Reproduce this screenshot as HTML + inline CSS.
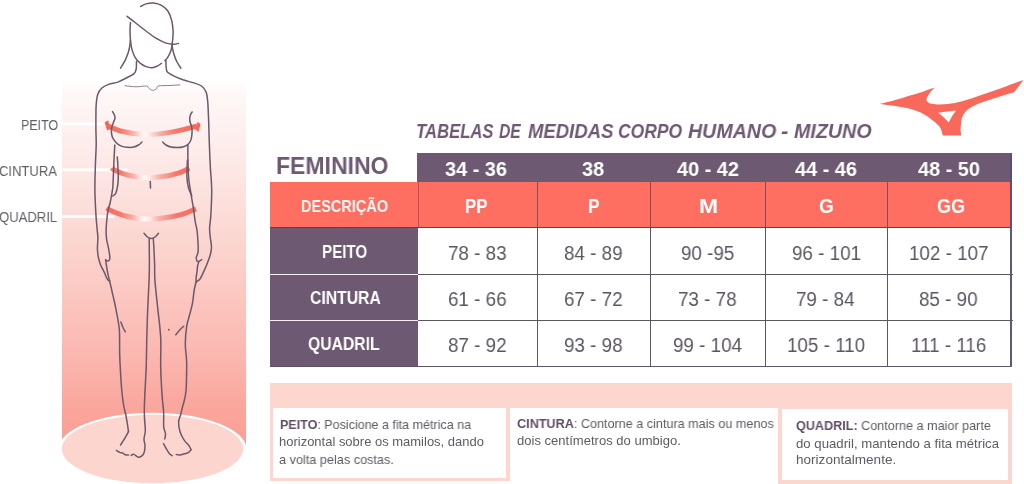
<!DOCTYPE html>
<html><head><meta charset="utf-8">
<style>
*{margin:0;padding:0;box-sizing:border-box}
html,body{width:1024px;height:484px;overflow:hidden;background:#fff}
body{position:relative;font-family:"Liberation Sans",sans-serif}
.a{position:absolute}
.t{position:absolute;white-space:nowrap;line-height:1;transform-origin:0 0;will-change:transform}
</style></head><body>
<svg class="a" style="left:0;top:0" width="270" height="484" viewBox="0 0 270 484">
<defs><linearGradient id="cyl" x1="0" y1="0" x2="0" y2="1"><stop offset="0" stop-color="#fff" stop-opacity="0"/><stop offset="0.03" stop-color="#fefaf9"/><stop offset="0.06" stop-color="#fdf7f6"/><stop offset="0.19" stop-color="#fdeceb"/><stop offset="0.46" stop-color="#fcd4ce"/><stop offset="0.73" stop-color="#fbb9b2"/><stop offset="0.9" stop-color="#faa59b"/><stop offset="1" stop-color="#f99e94"/></linearGradient><linearGradient id="ar" gradientUnits="userSpaceOnUse" x1="104" y1="0" x2="201" y2="0"><stop offset="0" stop-color="#f4685a"/><stop offset="0.17" stop-color="#f5786b"/><stop offset="0.3" stop-color="#f9b0a8"/><stop offset="0.38" stop-color="#fde8e5"/><stop offset="0.42" stop-color="#fff8f7"/><stop offset="0.47" stop-color="#fde8e5"/><stop offset="0.57" stop-color="#f9b0a8"/><stop offset="0.74" stop-color="#f5786b"/><stop offset="1" stop-color="#f4685a"/></linearGradient></defs>
<rect x="62" y="78" width="184" height="371" fill="url(#cyl)"/>
<ellipse cx="152.5" cy="449" rx="94" ry="36.2" fill="#fff"/>
<ellipse cx="152.5" cy="449" rx="90.6" ry="34.2" fill="#fcd5ce"/>
<g fill="#fff" opacity="0.95"><rect x="62.3" y="122.5" width="43" height="3"/><rect x="62.3" y="168.3" width="65" height="3"/><rect x="62.3" y="215" width="52" height="3"/></g>
<g fill="none" stroke="url(#ar)" stroke-width="5" stroke-linecap="butt">
<path d="M107.0 125.5 C109.4 126.5 115.2 129.8 121.5 131.3 C127.8 132.8 137.0 134.4 145.1 134.6 C153.2 134.8 161.2 133.8 169.8 132.4 C178.5 131.0 192.5 127.1 197.0 126.0"/>
<path d="M112.5 167.5 C112.8 167.9 111.7 168.8 114.3 170.1 C116.9 171.4 123.1 174.0 128.2 175.2 C133.3 176.4 139.2 177.3 144.9 177.5 C150.6 177.7 156.8 177.4 162.5 176.6 C168.2 175.8 174.7 174.2 179.2 172.8 C183.7 171.4 187.7 169.0 189.4 168.2"/>
<path d="M106.8 208.0 C107.4 208.4 107.2 209.0 110.3 210.3 C113.4 211.6 120.0 214.6 125.6 216.0 C131.2 217.4 137.8 218.7 144.1 219.0 C150.4 219.3 157.3 218.8 163.6 218.0 C169.9 217.2 176.6 215.9 182.0 214.4 C187.4 212.9 193.6 209.7 195.9 208.8"/>
</g>
<g fill="#f4685a">
<polygon points="104.6,122.6 108.2,120.2 110.2,128.8 107.2,130.6"/>
<polygon points="200.6,124.2 197.6,121.8 195.2,129.2 198.4,132"/>
</g>
<g fill="none" stroke="#6b5868" stroke-width="1.5" stroke-linecap="round" stroke-linejoin="round">
<path d="M140.6 6.5 C141.5 6.1 143.8 4.5 146.0 3.9 C148.2 3.3 151.1 2.9 153.7 3.1 C156.3 3.4 159.2 4.1 161.5 5.4 C163.8 6.7 166.0 8.4 167.7 10.8 C169.4 13.2 170.7 16.7 171.6 20.1 C172.5 23.5 172.9 27.6 173.1 31.0 C173.3 34.4 172.8 38.0 172.6 40.3 C172.4 42.6 172.1 43.9 172.0 44.6"/>
<path d="M127.1 16.3 C128.4 17.3 131.9 20.1 135.1 22.5 C138.2 24.9 142.4 28.3 146.0 31.0 C149.6 33.7 153.5 36.7 156.8 38.7 C160.2 40.7 163.2 42.2 166.1 43.1 C168.9 44.0 171.8 44.2 173.9 44.2 C176.0 44.2 177.7 43.5 178.5 43.4"/>
<path d="M130.5 22.5 C130.4 23.9 130.0 28.0 130.0 31.0 C130.0 34.0 130.2 37.2 130.5 40.3 C130.8 43.4 131.2 46.8 132.0 49.6 C132.8 52.4 133.8 55.1 135.1 57.3 C136.4 59.5 138.0 61.2 139.8 62.8 C141.6 64.3 143.9 65.8 146.0 66.6 C148.1 67.4 150.3 67.8 152.2 67.7 C154.1 67.6 156.0 66.6 157.6 65.9 C159.2 65.2 160.8 63.7 161.5 63.3"/>
<path d="M130.4 40.0 C130.3 41.2 130.0 44.9 129.6 47.0 C129.2 49.1 128.9 50.5 128.2 52.7 C127.4 54.9 126.4 57.8 125.1 60.4 C123.8 63.0 121.3 66.9 120.6 68.2"/>
<path d="M172.2 44.9 C172.0 45.9 171.6 49.0 170.8 51.1 C170.1 53.2 168.7 55.7 167.7 57.3 C166.7 58.9 165.4 60.1 164.9 60.7"/>
<path d="M171.8 45.0 C172.2 46.5 173.0 51.4 173.9 54.2 C174.8 57.0 175.8 59.7 177.0 62.0 C178.2 64.3 180.2 67.2 180.9 68.2"/>
<path d="M136.5 61.2 C136.4 62.5 136.6 66.8 136.2 68.9 C135.8 71.0 135.6 72.2 134.1 73.6 C132.6 75.0 129.9 76.1 127.2 77.5 C124.5 78.9 121.0 80.9 117.9 82.1 C114.8 83.2 111.3 83.4 108.6 84.4 C105.9 85.4 103.4 86.6 101.6 88.3 C99.8 90.0 98.6 91.8 97.7 94.5 C96.8 97.2 96.5 100.8 96.2 104.6 C95.9 108.3 96.0 112.8 95.9 117.0 C95.9 121.2 95.9 125.3 95.9 130.0 C96.0 134.7 96.3 139.2 96.2 145.0 C96.1 150.8 95.6 157.4 95.4 164.8 C95.2 172.2 94.8 181.3 94.9 189.6 C95.0 197.9 95.5 207.7 95.9 214.4 C96.3 221.1 96.9 226.1 97.2 230.0 C97.5 233.9 97.9 234.9 97.9 238.0 C97.9 241.1 97.4 245.5 97.4 248.6 C97.5 251.7 97.7 253.8 98.2 256.5 C98.7 259.2 99.5 262.1 100.5 264.7 C101.5 267.3 103.1 269.7 104.2 272.1 C105.3 274.5 106.4 277.7 107.3 279.2 C108.2 280.7 109.2 280.7 109.6 281.0"/>
<path d="M165.9 60.4 C165.9 61.6 165.9 65.5 166.2 67.4 C166.4 69.3 166.2 70.6 167.4 72.0 C168.6 73.4 171.0 74.6 173.6 75.9 C176.2 77.2 179.5 78.6 182.9 79.8 C186.3 81.0 190.7 81.9 193.8 82.9 C196.9 83.9 199.4 84.5 201.5 86.0 C203.6 87.5 205.2 89.6 206.2 92.2 C207.2 94.8 207.3 97.4 207.7 101.5 C208.1 105.6 208.2 110.6 208.5 117.0 C208.8 123.4 208.9 132.0 209.2 140.0 C209.5 148.0 209.8 156.5 210.2 164.8 C210.6 173.1 211.6 181.3 211.7 189.6 C211.8 197.9 211.2 208.0 210.9 214.4 C210.6 220.8 209.7 224.2 209.6 228.0 C209.5 231.8 210.0 234.2 210.3 237.4 C210.6 240.6 211.5 244.4 211.5 247.3 C211.5 250.2 211.0 252.1 210.3 254.8 C209.6 257.5 208.3 260.5 207.2 263.4 C206.1 266.3 204.7 269.5 203.5 272.1 C202.3 274.8 201.0 277.7 199.8 279.3 C198.6 280.9 196.7 281.6 196.1 282.0"/>
<path d="M109.6 281.0 C109.9 282.5 111.0 286.8 111.7 290.0 C112.4 293.2 113.3 296.9 114.0 300.0 C114.7 303.1 115.2 305.2 115.9 308.9 C116.6 312.6 117.7 318.1 118.3 322.0 C118.9 325.9 119.3 326.5 119.5 332.0 C119.7 337.5 119.5 348.4 119.7 355.1 C119.9 361.8 120.2 366.2 120.5 372.0 C120.8 377.8 121.2 384.3 121.7 389.8 C122.2 395.3 122.9 400.7 123.6 405.0 C124.3 409.3 125.3 412.2 126.0 415.8 C126.7 419.4 127.4 424.3 127.8 426.9 C128.2 429.5 128.4 430.8 128.5 431.6"/>
<path d="M196.1 282.0 C195.8 283.3 194.8 286.5 194.2 290.0 C193.6 293.5 193.3 298.9 192.5 303.1 C191.7 307.3 190.6 311.1 189.6 315.0 C188.6 318.9 187.4 321.4 186.7 326.2 C186.0 331.0 185.4 338.3 185.3 343.6 C185.2 348.9 186.2 354.1 186.4 358.0 C186.6 361.9 186.8 361.4 186.7 366.7 C186.6 372.0 186.5 384.2 186.1 389.8 C185.7 395.4 185.0 397.1 184.4 400.0 C183.8 402.9 183.0 404.7 182.4 407.2 C181.8 409.7 181.2 412.5 180.6 415.0 C180.0 417.5 178.7 419.1 178.6 422.0 C178.5 424.9 179.2 429.1 180.2 432.2 C181.1 435.2 182.8 438.1 184.3 440.3 C185.8 442.6 187.9 444.1 189.0 445.7 C190.1 447.3 190.7 449.0 191.0 449.7"/>
<path d="M128.5 431.6 C128.0 432.6 126.5 435.4 125.2 437.6 C123.9 439.8 121.3 443.8 120.5 445.0"/>
<path d="M116.4 450.4 C117.0 450.7 118.7 451.9 119.8 452.4 C120.9 452.8 122.2 452.7 123.1 453.1 C124.0 453.5 124.3 454.5 125.2 454.8 C126.1 455.1 128.0 455.1 128.5 455.1"/>
<path d="M131.2 455.4 C131.6 455.2 132.8 454.1 133.9 454.4 C135.0 454.7 136.7 456.8 137.9 457.1 C139.1 457.4 140.3 457.1 141.3 456.4 C142.3 455.7 143.4 454.9 144.0 453.1 C144.6 451.3 145.0 448.1 145.0 445.7 C145.0 443.3 143.9 441.5 144.0 439.0 C144.1 436.5 145.2 434.0 145.3 430.9 C145.4 427.8 144.7 422.0 144.6 420.2"/>
<path d="M149.2 238.5 C149.2 240.4 149.3 246.1 149.3 250.0 C149.3 253.9 149.4 257.0 149.4 262.0 C149.4 267.0 149.4 272.2 149.1 280.0 C148.8 287.8 148.1 299.3 147.7 308.9 C147.3 318.5 147.1 328.2 146.8 337.8 C146.6 347.4 146.5 357.1 146.2 366.7 C145.9 376.3 145.1 388.4 144.8 395.6 C144.5 402.8 144.3 405.9 144.3 410.0 C144.3 414.1 144.6 418.5 144.6 420.2"/>
<path d="M153.3 238.5 C153.4 240.4 153.8 245.8 154.0 250.0 C154.2 254.2 154.4 259.0 154.6 264.0 C154.8 269.0 154.4 272.5 154.9 280.0 C155.4 287.5 156.8 299.3 157.8 308.9 C158.8 318.5 160.2 328.2 160.7 337.8 C161.2 347.4 160.5 357.1 160.7 366.7 C160.9 376.3 161.6 388.1 162.1 395.6 C162.6 403.2 163.3 406.8 163.6 412.0 C163.9 417.2 163.4 423.3 163.7 426.9 C164.0 430.5 165.3 431.6 165.5 433.6 C165.7 435.6 164.9 438.1 164.8 439.0"/>
<path d="M163.5 443.7 C164.1 444.7 165.8 448.0 166.8 449.7 C167.8 451.4 168.6 452.7 169.5 453.7 C170.4 454.7 171.8 455.4 172.2 455.8"/>
<path d="M176.2 454.4 C176.9 454.5 178.8 455.2 180.2 455.1 C181.5 455.0 183.0 454.1 184.3 453.7 C185.7 453.3 187.2 453.4 188.3 452.7 C189.4 452.0 190.6 450.2 191.0 449.7"/>
<path d="M144.0 233.3 C144.6 233.9 146.3 236.1 147.5 237.0 C148.7 237.9 149.9 238.5 151.2 238.5 C152.4 238.5 153.8 237.9 155.0 237.0 C156.2 236.1 157.9 233.9 158.5 233.3"/>
<path d="M114.8 145.0 C114.7 147.5 114.2 155.3 114.0 159.8 C113.8 164.3 113.7 167.6 113.5 172.2 C113.3 176.8 113.1 183.3 112.8 187.1 C112.5 190.9 112.0 192.5 111.6 195.0 C111.2 197.5 110.9 199.2 110.3 202.0 C109.7 204.8 108.4 208.6 107.8 211.9 C107.2 215.2 106.9 218.8 106.6 222.0 C106.3 225.2 106.1 228.0 106.1 231.0 C106.1 234.0 106.3 237.0 106.7 239.9 C107.1 242.8 108.1 245.7 108.6 248.6 C109.1 251.5 109.7 255.2 109.8 257.2 C109.9 259.1 109.6 259.7 109.2 260.3 C108.8 260.9 107.9 261.1 107.3 261.0 C106.7 260.9 105.9 260.0 105.6 259.8"/>
<path d="M117.3 157.0 C117.5 159.9 118.2 170.1 118.3 174.7 C118.4 179.3 118.2 181.5 117.8 184.6 C117.4 187.7 116.6 191.4 115.8 193.3 C115.0 195.2 113.3 195.6 112.8 196.0"/>
<path d="M187.9 145.0 C187.9 147.1 187.8 152.0 187.9 157.4 C188.0 162.8 188.1 171.0 188.6 177.2 C189.1 183.4 190.3 189.1 191.1 194.5 C191.9 199.9 192.9 204.8 193.6 209.4 C194.3 214.0 194.7 218.4 195.3 222.0 C195.9 225.6 196.7 227.6 197.1 231.0 C197.5 234.4 197.8 238.8 198.0 242.4 C198.2 246.0 198.3 249.8 198.0 252.3 C197.7 254.8 196.4 255.7 196.3 257.2 C196.2 258.7 196.8 260.8 197.3 261.4 C197.9 262.0 198.9 261.3 199.6 261.0 C200.3 260.7 201.3 259.9 201.7 259.7"/>
<path d="M187.4 160.0 C187.3 162.9 186.7 172.5 186.9 177.2 C187.1 181.9 187.8 185.3 188.6 188.4 C189.4 191.5 191.3 194.6 191.8 195.8"/>
<path d="M105.6 259.8 C105.7 260.4 105.8 261.5 106.1 263.4 C106.4 265.2 106.9 268.6 107.3 270.9 C107.7 273.2 108.2 275.4 108.6 277.1 C109.0 278.8 109.4 280.4 109.6 281.0"/>
<path d="M198.8 262.0 C198.6 262.7 197.9 264.5 197.6 266.0 C197.3 267.5 197.3 269.1 197.1 271.0 C196.9 272.9 196.4 275.3 196.2 277.1 C196.0 278.9 196.1 281.2 196.1 282.0"/>
<path d="M112.5 111.5 C112.8 112.1 114.0 113.9 114.4 115.0 C114.8 116.1 115.1 116.8 115.0 118.0 C114.9 119.2 114.1 120.6 113.6 122.0 C113.1 123.4 112.4 125.0 112.0 126.5 C111.6 128.0 111.4 129.6 111.4 131.0 C111.4 132.4 111.5 133.8 111.8 135.0 C112.1 136.2 112.2 137.0 113.0 138.3 C113.8 139.6 115.1 141.7 116.5 143.0 C117.9 144.3 119.5 145.4 121.3 146.1 C123.1 146.8 125.4 147.1 127.5 147.3 C129.6 147.5 131.9 147.5 133.7 147.1 C135.5 146.7 137.1 145.8 138.5 145.0 C139.9 144.2 141.4 142.5 142.0 142.0"/>
<path d="M192.1 112.0 C191.8 112.5 190.8 113.9 190.4 115.0 C190.0 116.1 189.7 117.2 189.7 118.5 C189.7 119.8 189.9 121.2 190.2 122.5 C190.5 123.8 191.3 124.8 191.6 126.4 C191.9 128.0 192.2 129.7 192.1 131.9 C192.0 134.1 191.7 137.4 191.1 139.4 C190.5 141.4 189.6 142.8 188.4 144.0 C187.2 145.2 185.6 146.2 183.7 146.8 C181.8 147.4 179.1 147.6 177.0 147.6 C174.9 147.6 172.7 147.5 170.9 147.1 C169.1 146.7 167.4 145.8 166.0 145.0 C164.6 144.2 163.2 142.5 162.6 142.0"/>
<path d="M150.3 181.5 C150.3 182.6 150.5 186.9 150.5 188.0"/>
<path d="M120.9 322.0 C121.2 322.9 122.3 325.9 123.0 327.5 C123.7 329.1 124.9 331.1 125.3 331.8"/>
<path d="M175.8 334.8 C176.4 334.0 178.2 331.6 179.5 330.2 C180.8 328.8 183.0 326.9 183.7 326.3"/>
<path d="M168.6 329.6 C168.7 329.7 168.9 329.8 169.0 329.9"/>
</g>
<g fill="none" stroke="#8a8290" stroke-width="1" stroke-linecap="round">
<path d="M124.9 85.7 C126.8 85.9 132.9 86.8 136.5 86.8 C140.1 86.8 144.4 85.8 146.5 86.0 C148.6 86.2 147.9 87.6 148.9 88.3 C149.9 89.0 151.4 90.2 152.7 90.3 C154.0 90.4 155.7 89.5 156.6 88.8 C157.5 88.1 156.1 86.5 158.2 86.0 C160.3 85.5 165.4 85.7 169.0 85.5 C172.6 85.3 178.0 85.0 179.8 84.9"/>
</g>
</svg>
<svg class="a" style="left:860px;top:70px" width="164" height="72" viewBox="860 70 164 72"><path fill="#f8695c" fill-rule="evenodd" d="M879.3 104 C881.7 103.4 888.5 102.0 893.8 100.5 C899.1 99.0 905.9 96.8 911.0 95.2 C916.1 93.7 920.3 92.5 924.3 91.2 C928.3 89.9 933.0 88.2 934.8 87.6 C933.9 88.5 930.9 91.5 929.6 93.2 C928.3 94.9 927.4 96.5 926.9 97.8 C926.4 99.1 926.3 100.1 926.9 101.1 C927.5 102.0 928.4 103.0 930.2 103.5 C932.0 104.0 934.5 104.3 937.5 104.4 C940.5 104.5 944.3 104.4 948.1 104.0 C951.9 103.6 955.4 103.0 960.1 101.8 C964.8 100.6 970.8 98.5 976.2 96.7 C981.6 95.0 986.9 93.2 992.3 91.3 C997.7 89.4 1003.2 87.3 1008.4 85.4 C1013.6 83.5 1021.0 81.0 1023.5 80.1 L1014.4 91.9 C1011.6 92.8 1003.2 95.4 997.7 97.2 C992.2 99.0 986.1 100.9 981.6 102.6 C977.1 104.3 973.6 105.9 970.9 107.4 C968.2 108.9 966.9 110.1 965.5 111.7 C964.1 113.3 963.0 115.0 962.3 117.1 C961.5 119.1 961.3 121.8 961.0 124.0 C960.7 126.2 960.6 128.1 960.6 130.0 C960.6 131.9 961.2 134.6 961.3 135.5 L942.8 135.5 C942.3 134.2 941.6 130.0 940.1 127.6 C938.6 125.2 936.1 123.2 933.5 121.0 C930.9 118.8 928.0 116.4 924.3 114.4 C920.5 112.4 916.1 110.5 911.0 109.1 C905.9 107.7 899.1 106.6 893.8 105.8 C888.5 105.0 881.7 104.3 879.3 104.0 Z M938.2 112.8 Q947 111.2 956.2 110.5 Q951.5 116 948.7 122.6 Q944 117 938.2 112.8 Z"/></svg>
<div class="a" style="left:270px;top:182px;width:741px;height:45px;background:#fe6e61"></div>
<div class="a" style="left:417px;top:153px;width:594px;height:28px;background:#6d5a72"></div>
<div class="a" style="left:417px;top:181px;width:594px;height:1px;background:#8e4f60"></div>
<div class="a" style="left:270px;top:228px;width:148px;height:139px;background:#6d5a72"></div>
<div class="a" style="left:270px;top:227px;width:741px;height:1px;background:#6e3a58"></div>
<div class="a" style="left:270px;top:274px;width:148px;height:1px;background:#f4eef4"></div>
<div class="a" style="left:270px;top:320px;width:148px;height:1px;background:#f4eef4"></div>
<div class="a" style="left:418px;top:274px;width:595px;height:1px;background:#5e5462"></div>
<div class="a" style="left:418px;top:320px;width:595px;height:1px;background:#5e5462"></div>
<div class="a" style="left:270px;top:366px;width:742px;height:1px;background:#5e5462"></div>
<div class="a" style="left:418px;top:182px;width:1px;height:45px;background:#b0525c"></div>
<div class="a" style="left:537px;top:182px;width:1px;height:45px;background:#8a4a5e"></div>
<div class="a" style="left:537px;top:228px;width:1px;height:139px;background:#5e5462"></div>
<div class="a" style="left:650px;top:182px;width:1px;height:45px;background:#8a4a5e"></div>
<div class="a" style="left:650px;top:228px;width:1px;height:139px;background:#5e5462"></div>
<div class="a" style="left:765px;top:182px;width:1px;height:45px;background:#8a4a5e"></div>
<div class="a" style="left:765px;top:228px;width:1px;height:139px;background:#5e5462"></div>
<div class="a" style="left:887px;top:182px;width:1px;height:45px;background:#8a4a5e"></div>
<div class="a" style="left:887px;top:228px;width:1px;height:139px;background:#5e5462"></div>
<div class="a" style="left:1010px;top:153px;width:2px;height:75px;background:#4f5380"></div>
<div class="a" style="left:1010px;top:228px;width:2px;height:139px;background:#5a5b78"></div>
<div class="a" style="left:270px;top:383px;width:742px;height:25px;background:#fdd6d0"></div>
<div class="a" style="left:270px;top:408px;width:3px;height:73px;background:#fdd6d0"></div>
<div class="a" style="left:506px;top:408px;width:4px;height:73px;background:#fdd6d0"></div>
<div class="a" style="left:270px;top:478px;width:240px;height:3px;background:#fdd6d0"></div>
<div class="a" style="left:778px;top:408px;width:4px;height:76px;background:#fdd6d0"></div>
<div class="a" style="left:1008px;top:408px;width:4px;height:76px;background:#fdd6d0"></div>
<div class="a" style="left:782px;top:408px;width:226px;height:1px;background:#fdd6d0"></div>
<div class="a" style="left:778px;top:480px;width:234px;height:4px;background:#fdd6d0"></div>
<div class="t" style="left:415.75px;top:120.80px;font-size:20.2px;font-weight:bold;font-style:italic;color:#6d5a72;transform:scaleX(0.8264)">TABELAS</div>
<div class="t" style="left:499.10px;top:120.80px;font-size:20.2px;font-weight:bold;font-style:italic;color:#6d5a72;transform:scaleX(0.7750)">DE</div>
<div class="t" style="left:527.90px;top:120.80px;font-size:20.2px;font-weight:bold;font-style:italic;color:#6d5a72;transform:scaleX(0.9172)">MEDIDAS</div>
<div class="t" style="left:618.43px;top:120.80px;font-size:20.2px;font-weight:bold;font-style:italic;color:#6d5a72;transform:scaleX(0.8671)">CORPO</div>
<div class="t" style="left:687.90px;top:120.80px;font-size:20.2px;font-weight:bold;font-style:italic;color:#6d5a72;transform:scaleX(0.9714)">HUMANO</div>
<div class="t" style="left:780.80px;top:120.80px;font-size:20.2px;font-weight:bold;font-style:italic;color:#6d5a72;transform:scaleX(1.1000)">-</div>
<div class="t" style="left:793.90px;top:120.80px;font-size:20.2px;font-weight:bold;font-style:italic;color:#6d5a72;transform:scaleX(0.9747)">MIZUNO</div>
<div class="t" style="left:276.04px;top:155.10px;font-size:23.5px;font-weight:bold;font-style:normal;color:#6d5a72;transform:scaleX(0.9795)">FEMININO</div>
<div class="t" style="left:445.45px;top:157.70px;font-size:21px;font-weight:bold;font-style:normal;color:#fff;transform:scaleX(0.9469)">34 - 36</div>
<div class="t" style="left:582.14px;top:157.70px;font-size:21px;font-weight:bold;font-style:normal;color:#fff;transform:scaleX(0.9469)">38</div>
<div class="t" style="left:676.73px;top:157.70px;font-size:21px;font-weight:bold;font-style:normal;color:#fff;transform:scaleX(0.9469)">40 - 42</div>
<div class="t" style="left:795.23px;top:157.70px;font-size:21px;font-weight:bold;font-style:normal;color:#fff;transform:scaleX(0.9469)">44 - 46</div>
<div class="t" style="left:918.23px;top:157.70px;font-size:21px;font-weight:bold;font-style:normal;color:#fff;transform:scaleX(0.9469)">48 - 50</div>
<div class="t" style="left:464.98px;top:195.90px;font-size:20.6px;font-weight:bold;font-style:normal;color:#fff;transform:scaleX(0.8192)">PP</div>
<div class="t" style="left:588.15px;top:195.90px;font-size:20.6px;font-weight:bold;font-style:normal;color:#fff;transform:scaleX(0.8500)">P</div>
<div class="t" style="left:698.79px;top:195.90px;font-size:20.6px;font-weight:bold;font-style:normal;color:#fff;transform:scaleX(1.1133)">M</div>
<div class="t" style="left:819.38px;top:195.90px;font-size:20.6px;font-weight:bold;font-style:normal;color:#fff;transform:scaleX(0.9214)">G</div>
<div class="t" style="left:937.22px;top:195.90px;font-size:20.6px;font-weight:bold;font-style:normal;color:#fff;transform:scaleX(0.8767)">GG</div>
<div class="t" style="left:301.26px;top:197.60px;font-size:17.3px;font-weight:bold;font-style:normal;color:#fff8f6;transform:scaleX(0.8402)">DESCRIÇÃO</div>
<div class="t" style="left:322.07px;top:242.80px;font-size:18.2px;font-weight:bold;font-style:normal;color:#fff;transform:scaleX(0.8346)">PEITO</div>
<div class="t" style="left:309.74px;top:288.90px;font-size:18.2px;font-weight:bold;font-style:normal;color:#fff;transform:scaleX(0.8650)">CINTURA</div>
<div class="t" style="left:308.44px;top:334.90px;font-size:18.2px;font-weight:bold;font-style:normal;color:#fff;transform:scaleX(0.8630)">QUADRIL</div>
<div class="t" style="left:447.86px;top:242.60px;font-size:20px;font-weight:normal;font-style:normal;color:#5b5560;transform:scaleX(0.9400)">78 - 83</div>
<div class="t" style="left:564.36px;top:242.60px;font-size:20px;font-weight:normal;font-style:normal;color:#5b5560;transform:scaleX(0.9400)">84 - 89</div>
<div class="t" style="left:680.71px;top:242.60px;font-size:20px;font-weight:normal;font-style:normal;color:#5b5560;transform:scaleX(0.9400)">90 -95</div>
<div class="t" style="left:791.69px;top:242.60px;font-size:20px;font-weight:normal;font-style:normal;color:#5b5560;transform:scaleX(0.9400)">96 - 101</div>
<div class="t" style="left:908.58px;top:242.60px;font-size:20px;font-weight:normal;font-style:normal;color:#5b5560;transform:scaleX(0.9400)">102 - 107</div>
<div class="t" style="left:448.36px;top:289.10px;font-size:20px;font-weight:normal;font-style:normal;color:#5b5560;transform:scaleX(0.9400)">61 - 66</div>
<div class="t" style="left:564.36px;top:289.10px;font-size:20px;font-weight:normal;font-style:normal;color:#5b5560;transform:scaleX(0.9400)">67 - 72</div>
<div class="t" style="left:678.36px;top:289.10px;font-size:20px;font-weight:normal;font-style:normal;color:#5b5560;transform:scaleX(0.9400)">73 - 78</div>
<div class="t" style="left:796.39px;top:289.10px;font-size:20px;font-weight:normal;font-style:normal;color:#5b5560;transform:scaleX(0.9400)">79 - 84</div>
<div class="t" style="left:919.39px;top:289.10px;font-size:20px;font-weight:normal;font-style:normal;color:#5b5560;transform:scaleX(0.9400)">85 - 90</div>
<div class="t" style="left:448.36px;top:335.20px;font-size:20px;font-weight:normal;font-style:normal;color:#5b5560;transform:scaleX(0.9400)">87 - 92</div>
<div class="t" style="left:564.36px;top:335.20px;font-size:20px;font-weight:normal;font-style:normal;color:#5b5560;transform:scaleX(0.9400)">93 - 98</div>
<div class="t" style="left:672.72px;top:335.20px;font-size:20px;font-weight:normal;font-style:normal;color:#5b5560;transform:scaleX(0.9400)">99 - 104</div>
<div class="t" style="left:786.52px;top:335.20px;font-size:20px;font-weight:normal;font-style:normal;color:#5b5560;transform:scaleX(0.9400)">105 - 110</div>
<div class="t" style="left:910.93px;top:335.20px;font-size:20px;font-weight:normal;font-style:normal;color:#5b5560;transform:scaleX(0.9400)">111 - 116</div>
<div class="t" style="left:20.57px;top:116.80px;font-size:15.0px;font-weight:normal;font-style:normal;color:#625e66;transform:scaleX(0.8302)">PEITO</div>
<div class="t" style="left:-0.87px;top:162.70px;font-size:15.0px;font-weight:normal;font-style:normal;color:#625e66;transform:scaleX(0.8692)">CINTURA</div>
<div class="t" style="left:-1.07px;top:208.80px;font-size:15.0px;font-weight:normal;font-style:normal;color:#625e66;transform:scaleX(0.8723)">QUADRIL</div>
<div class="t" style="left:279.63px;top:418.70px;font-size:12.9px;font-weight:normal;font-style:normal;color:#5f5a63;transform:scaleX(0.9709)"><b style="color:#604f66">PEITO</b>: Posicione a fita métrica na</div>
<div class="t" style="left:278.99px;top:436.00px;font-size:12.9px;font-weight:normal;font-style:normal;color:#5f5a63;transform:scaleX(1.0069)">horizontal sobre os mamilos, dando</div>
<div class="t" style="left:278.92px;top:453.60px;font-size:12.9px;font-weight:normal;font-style:normal;color:#5f5a63;transform:scaleX(0.9835)">a volta pelas costas.</div>
<div class="t" style="left:516.82px;top:417.80px;font-size:12.9px;font-weight:normal;font-style:normal;color:#5f5a63;transform:scaleX(0.9793)"><b style="color:#604f66">CINTURA</b>: Contorne a cintura mais ou menos</div>
<div class="t" style="left:516.99px;top:434.90px;font-size:12.9px;font-weight:normal;font-style:normal;color:#5f5a63;transform:scaleX(1.0119)">dois centímetros do umbigo.</div>
<div class="t" style="left:796.22px;top:420.00px;font-size:12.9px;font-weight:normal;font-style:normal;color:#5f5a63;transform:scaleX(0.9783)"><b style="color:#604f66">QUADRIL:</b> Contorne a maior parte</div>
<div class="t" style="left:795.88px;top:437.50px;font-size:12.9px;font-weight:normal;font-style:normal;color:#5f5a63;transform:scaleX(1.0228)">do quadril, mantendo a fita métrica</div>
<div class="t" style="left:795.95px;top:454.30px;font-size:12.9px;font-weight:normal;font-style:normal;color:#5f5a63;transform:scaleX(1.0516)">horizontalmente.</div>
</body></html>
